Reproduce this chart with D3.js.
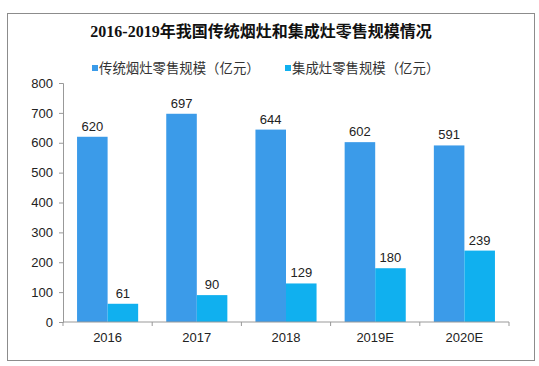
<!DOCTYPE html>
<html>
<head>
<meta charset="utf-8">
<script src="https://cdn.jsdelivr.net/npm/d3@7"></script>
<style>
  body { margin: 0; background: #fff; }
  text { font-family: "Liberation Sans", "Noto Sans CJK SC", sans-serif; }
</style>
</head>
<body>
<div id="chart"></div>
<script>
const years = ["2016", "2017", "2018", "2019E", "2020E"]
const seriesNames = ["传统烟灶零售规模（亿元）", "集成灶零售规模（亿元）"]
const traditional = [620, 697, 644, 602, 591]
const integrated = [61, 90, 129, 180, 239]
const yTicks = [0, 100, 200, 300, 400, 500, 600, 700, 800]
const colors = ["#3b9be9", "#10b0ef"]

const W = 539, H = 366
const margin = { top: 83, right: 30, bottom: 44, left: 63 }
const width = 509 - margin.left, height = 322 - margin.top

const root = d3.select("#chart").append("svg")
    .attr("width", W).attr("height", H)

// outer frame
root.append("rect")
    .attr("x", 7.5).attr("y", 13.5)
    .attr("width", 527).attr("height", 347)
    .attr("fill", "none").attr("stroke", "#8c8c8c")

root.append("text")
    .attr("x", 261).attr("y", 37)
    .attr("text-anchor", "middle")
    .style("font-family", "'Liberation Serif', 'Noto Sans CJK SC', serif")
    .style("font-size", "16px").style("font-weight", "bold").style("fill", "#111")
    .text("2016-2019年我国传统烟灶和集成灶零售规模情况")

// legend
const legendX = [92, 285]
const legend = root.selectAll(".legend").data(seriesNames).enter().append("g")
    .attr("transform", (d, i) => "translate(" + legendX[i] + ",68)")
legend.append("rect")
    .attr("x", 0).attr("y", -3).attr("width", 6).attr("height", 6)
    .attr("fill", (d, i) => colors[i])
legend.append("text")
    .attr("x", 7).attr("y", 4.5)
    .style("font-size", "13.4px").style("fill", "#333")
    .text(d => d)

const svg = root.append("g")
    .attr("transform", "translate(" + margin.left + "," + margin.top + ")")

const x0 = d3.scaleBand().domain(years).range([0, width]).paddingInner(0.315).paddingOuter(0.1575)
const x1 = d3.scaleBand().domain([0, 1]).range([0, x0.bandwidth()])
const y = d3.scaleLinear().domain([0, 800]).range([height, 0])

const groups = svg.selectAll(".grp").data(years).enter().append("g")
    .attr("transform", d => "translate(" + x0(d) + ",0)")

groups.selectAll("rect")
    .data((d, i) => [traditional[i], integrated[i]])
    .enter().append("rect")
    .attr("x", (d, j) => x1(j))
    .attr("width", x1.bandwidth())
    .attr("y", d => y(d))
    .attr("height", d => height - y(d))
    .attr("fill", (d, j) => colors[j])

groups.selectAll(".val")
    .data((d, i) => [traditional[i], integrated[i]])
    .enter().append("text")
    .attr("x", (d, j) => x1(j) + x1.bandwidth() / 2)
    .attr("y", d => y(d) - 6)
    .attr("text-anchor", "middle")
    .style("font-size", "13px").style("fill", "#222")
    .text(d => d)

// y axis
const yAxis = d3.axisLeft(y).tickValues(yTicks).tickSize(4).tickPadding(6)
const ya = svg.append("g").call(yAxis)
ya.select(".domain").attr("stroke", "#999")
ya.selectAll(".tick line").attr("stroke", "#999")
ya.selectAll("text").style("font-size", "13px").style("fill", "#222")

// x axis with ticks between categories
const xa = svg.append("g").attr("transform", "translate(0," + height + ")")
xa.append("line").attr("x1", 0).attr("x2", width).attr("stroke", "#999")
const step = x0.step()
xa.selectAll(".xt").data(d3.range(years.length + 1)).enter().append("line")
    .attr("x1", i => i * step).attr("x2", i => i * step)
    .attr("y1", 0).attr("y2", 4).attr("stroke", "#999")
xa.selectAll(".xl").data(years).enter().append("text")
    .attr("x", d => x0(d) + x0.bandwidth() / 2)
    .attr("y", 20)
    .attr("text-anchor", "middle")
    .style("font-size", "13px").style("fill", "#222")
    .text(d => d)
</script>
</body>
</html>
